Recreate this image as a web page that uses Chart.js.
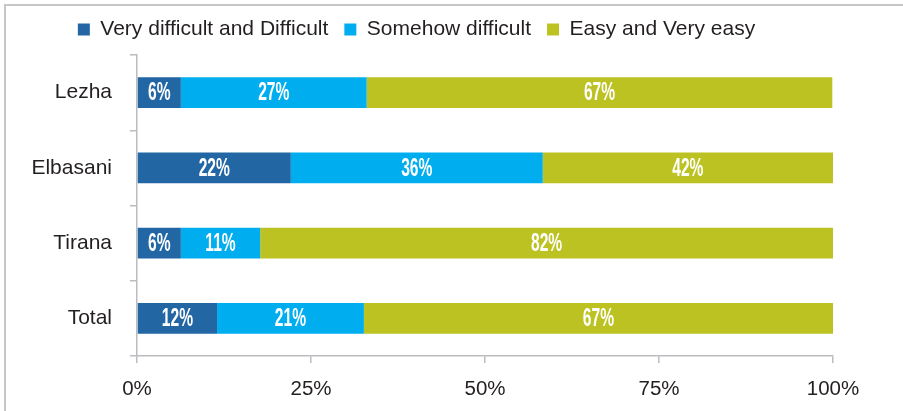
<!DOCTYPE html>
<html>
<head>
<meta charset="utf-8">
<script src="https://cdn.jsdelivr.net/npm/chart.js@4.4.1/dist/chart.umd.min.js"></script>
<style>
  html, body { margin: 0; padding: 0; background: #ffffff; overflow: hidden; }
  #wrap { position: relative; width: 903px; height: 411px; overflow: hidden; }
  #c { position: absolute; left: 0; top: 0; }
</style>
</head>
<body>
<div id="wrap">
  <canvas id="c" width="903" height="411"></canvas>
</div>
<script>
const categories = ["Lezha", "Elbasani", "Tirana", "Total"];
const seriesNames = ["Very difficult and Difficult", "Somehow difficult", "Easy and Very easy"];
const veryDifficult = [6.3, 22.1, 6.3, 11.5];
const somehowDifficult = [26.7, 36.2, 11.4, 21.1];
const easy = [66.9, 41.7, 82.3, 67.4];
const xTicks = [0, 25, 50, 75, 100];

const colors = ["#2266a4", "#00aeef", "#bbc222"];
const axisColor = "#bcbcc0";
const textColor = "#231f20";

const frame = {
  id: "frame",
  beforeDraw(chart) {
    const ctx = chart.ctx;
    ctx.save();
    ctx.strokeStyle = "#c6c6c8";
    ctx.lineWidth = 2;
    ctx.beginPath();
    ctx.moveTo(5, chart.height + 2);
    ctx.lineTo(5, 5);
    ctx.lineTo(chart.width + 2, 5);
    ctx.stroke();
    ctx.restore();
  }
};

const barLabels = {
  id: "barLabels",
  afterDatasetsDraw(chart) {
    const ctx = chart.ctx;
    const sx = 0.6;
    chart.data.datasets.forEach((ds, di) => {
      const meta = chart.getDatasetMeta(di);
      meta.data.forEach((el, i) => {
        const p = el.getProps(["x", "base", "y"], true);
        const cx = (p.x + p.base) / 2;
        ctx.save();
        ctx.fillStyle = "#ffffff";
        ctx.font = 'bold 26px "Liberation Sans", Arial, sans-serif';
        ctx.textAlign = "center";
        ctx.textBaseline = "middle";
        ctx.translate(cx, p.y + 0.5);
        ctx.scale(sx, 1);
        ctx.fillText(Math.round(ds.data[i]) + "%", 0, 0);
        ctx.restore();
      });
    });
  }
};

const legendSpace = {
  id: "legendSpace",
  beforeLayout(chart) {
    const lg = chart.legend;
    if (lg && !lg._patched) {
      const orig = lg.fit;
      lg.fit = function () { orig.call(this); this.height += 5; };
      lg._patched = true;
    }
  }
};

new Chart(document.getElementById("c"), {
  type: "bar",
  data: {
    labels: categories,
    datasets: [
      { label: seriesNames[0], data: veryDifficult, backgroundColor: colors[0], borderWidth: 0 },
      { label: seriesNames[1], data: somehowDifficult, backgroundColor: colors[1], borderWidth: 0 },
      { label: seriesNames[2], data: easy, backgroundColor: colors[2], borderWidth: 0 }
    ]
  },
  options: {
    indexAxis: "y",
    responsive: false,
    animation: false,
    devicePixelRatio: 1,
    layout: { padding: { left: 0, right: 70, top: 3, bottom: 0 } },
    datasets: { bar: { categoryPercentage: 1, barPercentage: 0.41 } },
    plugins: {
      tooltip: { enabled: false },
      legend: {
        position: "top",
        align: "center",
        labels: {
          boxWidth: 12,
          boxHeight: 12,
          padding: 16,
          color: textColor,
          font: { family: '"Liberation Sans", Arial, Helvetica, sans-serif', size: 21 }
        }
      }
    },
    scales: {
      x: {
        type: "linear",
        stacked: true,
        min: 0,
        max: 100,
        afterBuildTicks(scale) { scale.ticks = xTicks.map(v => ({ value: v })); },
        afterFit(scale) { scale.height = 55; },
        ticks: {
          padding: 14,
          color: textColor,
          font: { family: '"Liberation Sans", Arial, Helvetica, sans-serif', size: 20.5 },
          callback: v => v + "%"
        },
        grid: { drawOnChartArea: false, drawTicks: true, tickLength: 7, color: axisColor, lineWidth: 1.5 },
        border: { display: true, color: axisColor, width: 1.5 }
      },
      y: {
        type: "category",
        stacked: true,
        afterFit(scale) { scale.width = 137; },
        ticks: {
          padding: 18,
          color: textColor,
          font: { family: '"Liberation Sans", Arial, Helvetica, sans-serif', size: 21 }
        },
        grid: { offset: true, drawOnChartArea: false, drawTicks: true, tickLength: 7, color: axisColor, lineWidth: 1.5 },
        border: { display: true, color: axisColor, width: 1.5 }
      }
    }
  },
  plugins: [frame, barLabels, legendSpace]
});
</script>
</body>
</html>
